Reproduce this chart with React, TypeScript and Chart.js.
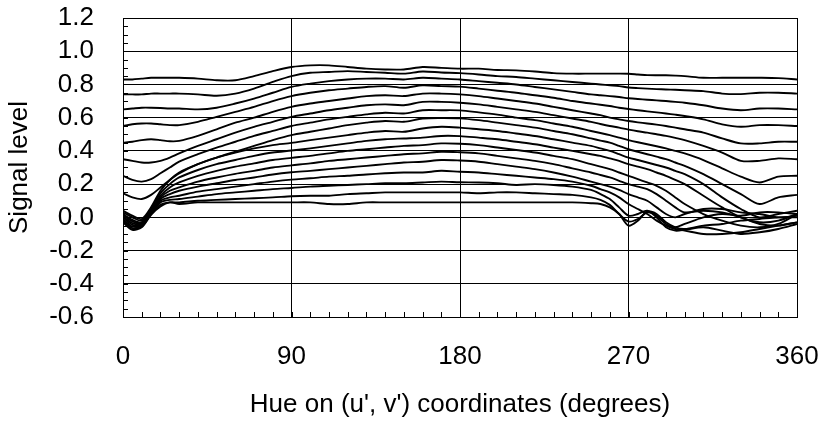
import React, { useEffect, useRef } from "react";
import { Chart, registerables } from "chart.js";

Chart.register(...registerables);

// Hue angle samples (degrees)
const HUE = [0, 5, 10, 15, 20, 25, 30, 40, 50, 60, 70, 80, 90, 100, 110, 120, 130, 140, 150, 160, 170, 180, 190, 200, 210, 220, 230, 240, 250, 255, 260, 265, 270, 275, 280, 285, 290, 295, 300, 310, 320, 330, 340, 350, 360];

// Signal level curves, top to bottom
const curve01 = [0.83, 0.83, 0.835, 0.84, 0.84, 0.84, 0.84, 0.835, 0.825, 0.825, 0.85, 0.88, 0.905, 0.915, 0.915, 0.905, 0.895, 0.89, 0.89, 0.905, 0.9, 0.895, 0.895, 0.887, 0.885, 0.878, 0.868, 0.865, 0.865, 0.865, 0.865, 0.865, 0.864, 0.86, 0.856, 0.855, 0.855, 0.853, 0.85, 0.84, 0.84, 0.84, 0.84, 0.838, 0.83];
const curve02 = [0.74, 0.74, 0.74, 0.745, 0.745, 0.745, 0.745, 0.74, 0.732, 0.745, 0.775, 0.815, 0.85, 0.87, 0.875, 0.88, 0.875, 0.87, 0.865, 0.878, 0.872, 0.868, 0.86, 0.85, 0.845, 0.835, 0.825, 0.815, 0.805, 0.8, 0.795, 0.79, 0.782, 0.778, 0.775, 0.772, 0.77, 0.768, 0.765, 0.76, 0.745, 0.742, 0.75, 0.75, 0.745];
const curve03 = [0.65, 0.655, 0.66, 0.66, 0.658, 0.655, 0.655, 0.65, 0.66, 0.685, 0.715, 0.75, 0.785, 0.805, 0.82, 0.83, 0.835, 0.835, 0.83, 0.84, 0.835, 0.83, 0.82, 0.81, 0.8, 0.785, 0.77, 0.755, 0.74, 0.735, 0.73, 0.724, 0.717, 0.712, 0.708, 0.704, 0.7, 0.695, 0.69, 0.675, 0.655, 0.645, 0.655, 0.655, 0.65];
const curve04 = [0.55, 0.56, 0.565, 0.565, 0.56, 0.555, 0.555, 0.575, 0.605, 0.635, 0.665, 0.7, 0.73, 0.75, 0.765, 0.775, 0.785, 0.79, 0.78, 0.795, 0.79, 0.787, 0.775, 0.762, 0.75, 0.735, 0.72, 0.7, 0.685, 0.678, 0.67, 0.66, 0.652, 0.645, 0.638, 0.632, 0.625, 0.618, 0.61, 0.59, 0.56, 0.545, 0.555, 0.555, 0.55];
const curve05 = [0.45, 0.455, 0.465, 0.47, 0.465, 0.458, 0.46, 0.49, 0.53, 0.57, 0.6, 0.635, 0.665, 0.685, 0.7, 0.715, 0.73, 0.735, 0.73, 0.745, 0.745, 0.74, 0.73, 0.715, 0.7, 0.685, 0.665, 0.645, 0.625, 0.615, 0.6, 0.59, 0.58, 0.572, 0.565, 0.558, 0.55, 0.54, 0.53, 0.51, 0.475, 0.445, 0.445, 0.455, 0.455];
const curve06 = [0.35, 0.34, 0.33, 0.33, 0.34, 0.36, 0.385, 0.43, 0.47, 0.51, 0.545, 0.575, 0.605, 0.625, 0.645, 0.66, 0.675, 0.68, 0.675, 0.695, 0.695, 0.69, 0.68, 0.665, 0.65, 0.635, 0.615, 0.595, 0.575, 0.562, 0.55, 0.54, 0.528, 0.518, 0.51, 0.5, 0.49, 0.478, 0.465, 0.43, 0.39, 0.34, 0.34, 0.355, 0.35];
const curve07 = [0.25, 0.225, 0.215, 0.23, 0.265, 0.3, 0.335, 0.38, 0.42, 0.455, 0.49, 0.52, 0.55, 0.57, 0.59, 0.605, 0.62, 0.63, 0.625, 0.645, 0.645, 0.644, 0.632, 0.618, 0.6, 0.585, 0.565, 0.545, 0.52, 0.508, 0.495, 0.48, 0.465, 0.452, 0.44, 0.428, 0.415, 0.4, 0.385, 0.345, 0.295, 0.245, 0.21, 0.245, 0.25];
const curve08 = [0.145, 0.12, 0.11, 0.135, 0.18, 0.225, 0.265, 0.32, 0.36, 0.395, 0.43, 0.465, 0.495, 0.515, 0.535, 0.555, 0.57, 0.58, 0.575, 0.595, 0.598, 0.596, 0.585, 0.57, 0.555, 0.54, 0.52, 0.5, 0.475, 0.462, 0.45, 0.43, 0.41, 0.395, 0.38, 0.365, 0.35, 0.33, 0.31, 0.26, 0.2, 0.14, 0.08, 0.12, 0.135];
const curve09 = [0.04, 0.01, -0.01, 0.06, 0.16, 0.225, 0.27, 0.32, 0.36, 0.39, 0.415, 0.435, 0.448, 0.465, 0.48, 0.495, 0.51, 0.52, 0.515, 0.535, 0.545, 0.54, 0.53, 0.52, 0.505, 0.49, 0.47, 0.45, 0.43, 0.415, 0.4, 0.38, 0.36, 0.345, 0.33, 0.315, 0.3, 0.28, 0.26, 0.2, 0.12, 0.05, 0.0, 0.02, 0.04];
const curve10 = [0.03, 0.0, -0.02, 0.05, 0.145, 0.2, 0.24, 0.285, 0.32, 0.345, 0.37, 0.39, 0.402, 0.415, 0.43, 0.445, 0.46, 0.47, 0.475, 0.48, 0.49, 0.489, 0.48, 0.47, 0.455, 0.44, 0.42, 0.4, 0.38, 0.37, 0.355, 0.34, 0.32, 0.305, 0.29, 0.27, 0.25, 0.225, 0.2, 0.13, 0.06, 0.0, -0.03, -0.02, 0.02];
const curve11 = [0.02, -0.015, -0.03, 0.045, 0.13, 0.18, 0.21, 0.25, 0.28, 0.305, 0.325, 0.345, 0.358, 0.37, 0.385, 0.4, 0.41, 0.42, 0.43, 0.435, 0.445, 0.443, 0.435, 0.42, 0.405, 0.39, 0.37, 0.35, 0.32, 0.305, 0.29, 0.27, 0.25, 0.23, 0.21, 0.19, 0.16, 0.12, 0.08, 0.02, -0.02, -0.05, -0.06, -0.04, 0.02];
const curve12 = [0.015, -0.025, -0.035, 0.04, 0.12, 0.16, 0.18, 0.215, 0.24, 0.262, 0.28, 0.3, 0.313, 0.325, 0.34, 0.35, 0.36, 0.37, 0.38, 0.385, 0.395, 0.392, 0.385, 0.37, 0.355, 0.34, 0.32, 0.295, 0.27, 0.255, 0.24, 0.22, 0.2, 0.185, 0.17, 0.14, 0.1, 0.06, 0.03, 0.04, 0.03, 0.0, -0.04, -0.05, -0.03];
const curve13 = [0.005, -0.035, -0.04, 0.035, 0.11, 0.14, 0.16, 0.185, 0.205, 0.225, 0.24, 0.258, 0.271, 0.28, 0.29, 0.3, 0.31, 0.32, 0.33, 0.335, 0.345, 0.342, 0.335, 0.32, 0.305, 0.29, 0.27, 0.245, 0.215, 0.2, 0.185, 0.165, 0.14, 0.12, 0.1, 0.06, 0.02, 0.0, 0.02, 0.05, 0.05, 0.03, 0.02, 0.0, 0.01];
const curve14 = [0.0, -0.045, -0.045, 0.03, 0.1, 0.12, 0.13, 0.155, 0.17, 0.185, 0.2, 0.215, 0.227, 0.235, 0.245, 0.25, 0.258, 0.265, 0.27, 0.27, 0.28, 0.274, 0.27, 0.26, 0.25, 0.24, 0.23, 0.215, 0.19, 0.17, 0.15, 0.12, 0.08, 0.05, 0.02, -0.02, -0.05, -0.07, -0.08, -0.1, -0.1, -0.09, -0.07, -0.05, -0.03];
const curve15 = [-0.01, -0.055, -0.05, 0.025, 0.09, 0.105, 0.11, 0.125, 0.14, 0.15, 0.16, 0.17, 0.177, 0.185, 0.19, 0.195, 0.2, 0.205, 0.205, 0.21, 0.215, 0.211, 0.21, 0.205, 0.195, 0.2, 0.195, 0.185, 0.165, 0.14, 0.11, 0.06, 0.01, 0.02, 0.04, 0.0, -0.06, -0.08, -0.075, -0.06, -0.08, -0.1, -0.09, -0.07, -0.04];
const curve16 = [-0.02, -0.065, -0.055, 0.02, 0.075, 0.09, 0.09, 0.1, 0.105, 0.11, 0.115, 0.12, 0.127, 0.13, 0.13, 0.14, 0.145, 0.15, 0.15, 0.15, 0.15, 0.15, 0.145, 0.15, 0.15, 0.145, 0.14, 0.135, 0.12, 0.105, 0.075, 0.02, -0.025, -0.01, 0.03, 0.01, -0.04, -0.06, -0.04, 0.0, 0.02, 0.01, 0.03, 0.03, 0.02];
const curve17 = [-0.03, -0.075, -0.06, 0.015, 0.065, 0.09, 0.08, 0.09, 0.09, 0.09, 0.09, 0.09, 0.09, 0.09, 0.08, 0.08, 0.09, 0.09, 0.09, 0.09, 0.09, 0.09, 0.09, 0.09, 0.09, 0.09, 0.09, 0.09, 0.085, 0.08, 0.06, 0.02, -0.05, -0.02, 0.035, 0.02, -0.03, -0.06, -0.07, -0.05, -0.04, -0.02, -0.01, 0.0, 0.0];

const CURVES = [curve01, curve02, curve03, curve04, curve05, curve06, curve07, curve08, curve09, curve10, curve11, curve12, curve13, curve14, curve15, curve16, curve17];

const X_MIN = 0;
const X_MAX = 360;
const X_STEP = 90;
const X_MINOR = 10;
const Y_MIN = -0.6;
const Y_MAX = 1.2;
const Y_STEP = 0.2;
const Y_MINOR = 0.05;

const X_TITLE = "Hue on (u', v') coordinates (degrees)";
const Y_TITLE = "Signal level";

const FONT_FAMILY = "'Liberation Sans', Arial, Helvetica, sans-serif";

const minorTicksPlugin = {
  id: "minorTicks",
  afterDraw(chart: any) {
    const { ctx, chartArea, scales } = chart;
    const xs = scales.x;
    const ys = scales.y;
    ctx.save();
    ctx.strokeStyle = "#000";
    ctx.lineWidth = 1;
    ctx.beginPath();
    for (let v = X_MIN + X_MINOR; v < X_MAX - 1e-9; v += X_MINOR) {
      const px = Math.round(xs.getPixelForValue(v)) + 0.5;
      ctx.moveTo(px, chartArea.bottom);
      ctx.lineTo(px, chartArea.bottom - 5);
    }
    const n = Math.round((Y_MAX - Y_MIN) / Y_MINOR);
    for (let i = 1; i < n; i++) {
      const v = Y_MIN + i * Y_MINOR;
      const py = Math.round(ys.getPixelForValue(v)) + 0.5;
      ctx.moveTo(chartArea.left, py);
      ctx.lineTo(chartArea.left + 5, py);
    }
    ctx.stroke();
    ctx.restore();
  },
};

function zeroPadding(scale: any) {
  scale.paddingTop = 0;
  scale.paddingBottom = 0;
  scale.paddingLeft = 0;
  scale.paddingRight = 0;
}

export default function App() {
  const canvasRef = useRef<HTMLCanvasElement | null>(null);

  useEffect(() => {
    const canvas = canvasRef.current;
    if (!canvas) return;
    const datasets = CURVES.map((c, k) => ({
      label: "curve " + (k + 1),
      data: c.map((y, i) => ({ x: HUE[i], y })),
      borderColor: "#000",
      borderWidth: 1.9,
      pointRadius: 0,
      fill: false,
      tension: 0.3,
    }));

    const chart = new Chart(canvas, {
      type: "line",
      data: { datasets },
      options: {
        animation: false,
        responsive: true,
        maintainAspectRatio: false,
        devicePixelRatio: 1,
        layout: { padding: { top: 18, right: 27, left: 0, bottom: 0 } },
        plugins: {
          legend: { display: false },
          tooltip: { enabled: false },
        },
        scales: {
          x: {
            type: "linear",
            min: X_MIN,
            max: X_MAX,
            ticks: {
              stepSize: X_STEP,
              autoSkip: false,
              color: "#000",
              font: { family: FONT_FAMILY, size: 26 },
              padding: 24,
              maxRotation: 0,
            },
            grid: { color: "#000", lineWidth: 1, drawTicks: false },
            border: { display: true, color: "#000", width: 1 },
            title: {
              display: true,
              text: X_TITLE,
              color: "#000",
              font: { family: FONT_FAMILY, size: 26 },
              padding: { top: 0, bottom: 5 },
            },
            afterFit: (scale: any) => {
              scale.height = 108;
              zeroPadding(scale);
            },
          },
          y: {
            type: "linear",
            min: Y_MIN,
            max: Y_MAX,
            ticks: {
              stepSize: Y_STEP,
              autoSkip: false,
              color: "#000",
              font: { family: FONT_FAMILY, size: 26 },
              padding: 29,
              callback: (v: any) => {
                const n = Number(v);
                return Math.abs(n) < 1e-9 ? "0.0" : n.toFixed(1);
              },
            },
            grid: { color: "#000", lineWidth: 1, drawTicks: false },
            border: { display: true, color: "#000", width: 1 },
            title: {
              display: true,
              text: Y_TITLE,
              color: "#000",
              font: { family: FONT_FAMILY, size: 26 },
              padding: { top: 4, bottom: 0 },
            },
            afterFit: (scale: any) => {
              scale.width = 123;
              zeroPadding(scale);
            },
          },
        },
      },
      plugins: [minorTicksPlugin],
    } as any);

    return () => {
      chart.destroy();
    };
  }, []);

  return (
    <div style={{ position: "absolute", left: 0, top: 0, width: 824, height: 425, background: "#fff" }}>
      <canvas ref={canvasRef} />
    </div>
  );
}
